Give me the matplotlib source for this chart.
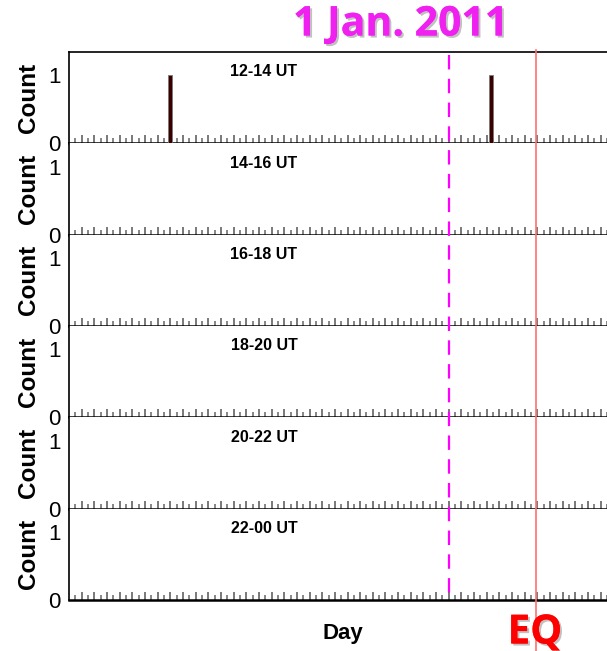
import matplotlib.pyplot as plt
import matplotlib.patheffects as pe
from matplotlib.lines import Line2D
from matplotlib.transforms import blended_transform_factory
import numpy as np

# panel names (UT windows) and the events seen in each one
panel_names = ['12-14 UT', '14-16 UT', '16-18 UT', '18-20 UT', '20-22 UT', '22-00 UT']
event_days = [[16, 66.7], [], [], [], [], []]
event_counts = [[1, 1], [], [], [], [], []]

day_min, day_max = 0, 85
jan1_day = 60
eq_day = 73.8

fig = plt.figure(figsize=(6.07, 6.51), dpi=100)
gs = fig.add_gridspec(6, 1, left=0.1137, right=1.0, top=0.920, bottom=0.0783, hspace=0)
axes = [fig.add_subplot(gs[i]) for i in range(6)]

for i, ax in enumerate(axes):
    ax.bar(event_days[i], event_counts[i], width=0.65, color='#3a0000',
           edgecolor='#7a7a7a', linewidth=0.6, zorder=3)
    ax.set_xlim(day_min, day_max)
    ax.set_ylim(0, 1.34)
    ax.set_yticks([0, 1])
    ax.set_yticklabels(['0', '1'], fontsize=16, family='Liberation Sans')
    ax.tick_params(axis='y', length=0, pad=6)
    ax.set_xticks(np.arange(2, day_max + 1, 2))
    ax.set_xticks(np.arange(1, day_max + 1, 1), minor=True)
    ax.set_xticklabels([])
    ax.tick_params(axis='x', which='major', direction='in', length=5.5, width=1.1, color='#555555')
    ax.tick_params(axis='x', which='minor', direction='in', length=3.3, width=1.1, color='#666666')
    ax.spines['right'].set_visible(False)
    ax.spines['bottom'].set_linewidth(1.8)
    ax.spines['left'].set_linewidth(1.2)
    if i > 0:
        ax.spines['top'].set_visible(False)
    else:
        ax.spines['top'].set_linewidth(1.2)
    ax.set_ylabel('Count', fontsize=17.5, fontweight='bold', family='Liberation Sans', labelpad=6)
    ax.text(30.8, 1.05, panel_names[i], fontsize=11.5, fontweight='bold',
            family='Liberation Sans', ha='center', va='center')

# vertical markers running across all panels
tr = blended_transform_factory(axes[0].transData, fig.transFigure)
fig.add_artist(Line2D([jan1_day, jan1_day], [1 - 55 / 651, 1 - 600 / 651], transform=tr,
                      color='#ff00ff', linewidth=1.6, linestyle=(0, (6.5, 4.2))))
fig.add_artist(Line2D([eq_day, eq_day], [1 - 50 / 651, 0], transform=tr,
                      color='#ff7070', linewidth=1.2))

shadow = [pe.withSimplePatchShadow(offset=(1.5, -1.5), shadow_rgbFace='#999999', alpha=0.6), pe.Normal()]
fig.text(401 / 607, 1 - 25 / 651, '1 Jan. 2011', color='#f020f0', fontsize=29.5,
         fontweight='bold', family='Open Sans', ha='center', va='center', path_effects=shadow)
fig.text(343 / 607, 1 - 634 / 651, 'Day', fontsize=16, fontweight='bold',
         family='Liberation Sans', ha='center', va='center')
fig.text(535 / 607, 1 - 633 / 651, 'EQ', color='#ff0000', fontsize=29,
         fontweight='bold', family='Open Sans', ha='center', va='center', path_effects=shadow)

fig.savefig('out.png', dpi=100)
